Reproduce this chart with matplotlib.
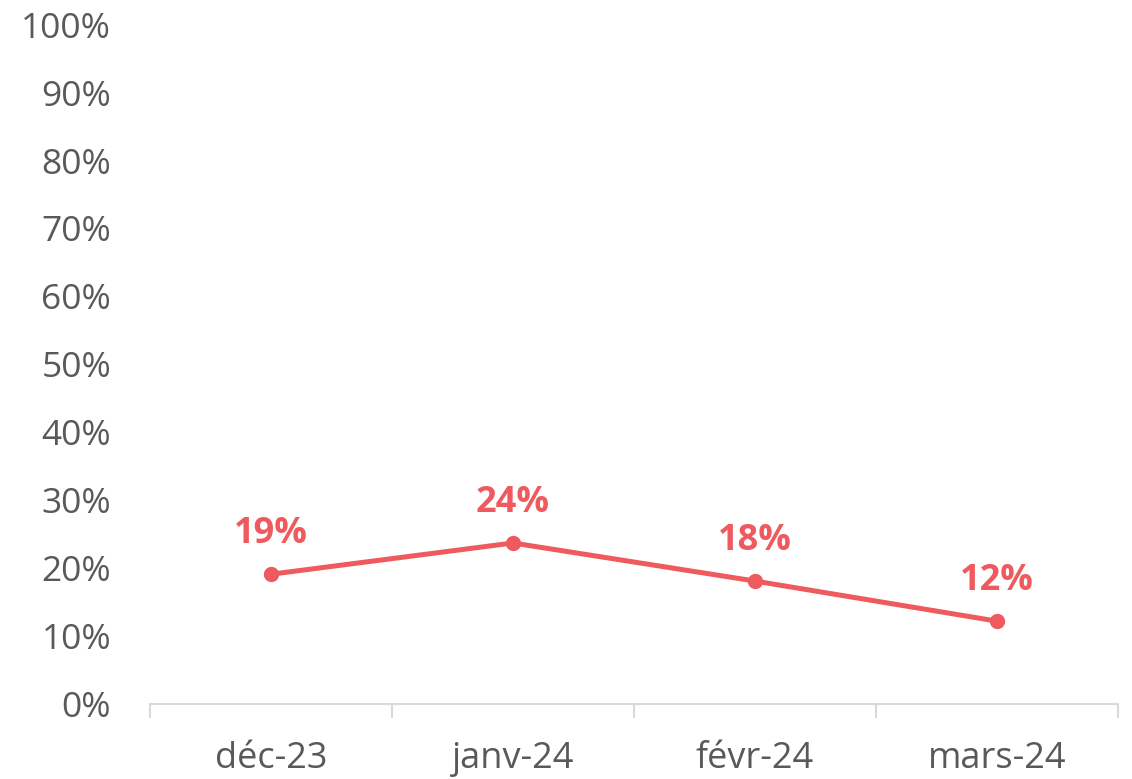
import matplotlib.pyplot as plt
from matplotlib.ticker import PercentFormatter

months = ['déc-23', 'janv-24', 'févr-24', 'mars-24']
values = [0.191, 0.237, 0.181, 0.122]
labels = ['19%', '24%', '18%', '12%']

red = '#EE5A5E'
grey = '#595959'

plt.rcParams['font.family'] = ['Open Sans', 'DejaVu Sans']

fig = plt.figure(figsize=(11.32, 7.79), dpi=100)
ax = fig.add_axes([0.1325, 0.0963, 0.855, 0.872])

x = list(range(len(months)))
ax.plot(x, values, color=red, lw=3.6, marker='o', ms=10, solid_capstyle='round')
for xi, v, lab in zip(x, values, labels):
    ax.annotate(lab, (xi, v), xytext=(0, 29), textcoords='offset points',
                ha='center', va='center', color=red, fontsize=26, fontweight='bold')

ax.set_xlim(-0.5, len(months) - 0.5)
ax.set_ylim(0, 1)
ax.set_yticks([i / 10 for i in range(11)])
ax.yaxis.set_major_formatter(PercentFormatter(1.0, decimals=0))
ax.set_xticks(x)
ax.set_xticklabels(months)
ax.set_xticks([i - 0.5 for i in range(len(months) + 1)], minor=True)

for side in ['top', 'right', 'left']:
    ax.spines[side].set_visible(False)
ax.spines['bottom'].set_color('#D9D9D9')
ax.spines['bottom'].set_linewidth(1.5)

ax.tick_params(axis='y', length=0, pad=28, labelsize=25.5, labelcolor=grey)
ax.tick_params(axis='x', which='major', length=0, pad=27, labelsize=26, labelcolor=grey)
ax.tick_params(axis='x', which='minor', length=10, width=1.5, color='#D9D9D9')

fig.savefig('out.png', dpi=100)
